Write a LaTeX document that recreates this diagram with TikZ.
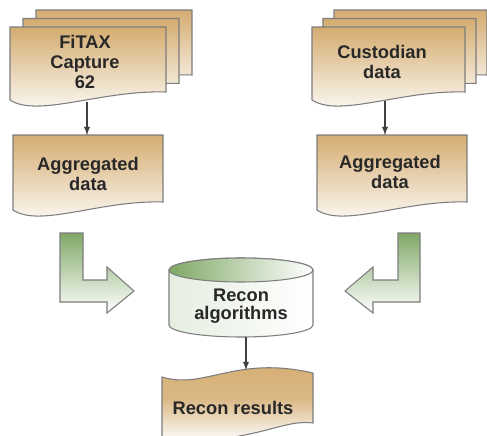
\documentclass[tikz,border=0pt]{standalone}
\usepackage{fontspec}
\setmainfont{Liberation Sans}

\definecolor{docTan}{RGB}{212,172,112}
\definecolor{arrGreen}{RGB}{128,168,102}
\definecolor{edgeGray}{RGB}{125,125,125}
\definecolor{txtGray}{RGB}{40,40,40}

%% document sheet: [style] x, y (top left), width, height
\newcommand{\docsheet}[5][]{%
	\draw [sheet,#1] (#2,#3) -- (#2+#4,#3) -- (#2+#4,#3+#5)
		.. controls (#2+0.58*#4,#3+#5-2) and (#2+0.18*#4,#3+#5+26) .. (#2,#3+#5+8) -- cycle;}

\begin{document}
\begin{tikzpicture}[>=latex, x=0.02cm, y=-0.02cm,
	sheet/.style={draw=edgeGray, line width=0.6pt, top color=docTan, bottom color=white},
	bentarrow/.style={draw=edgeGray, line width=0.6pt, top color=arrGreen, bottom color=white},
	lbl/.style={font=\fontsize{10.4}{11.4}\selectfont\bfseries, text=txtGray, align=center, inner sep=0pt},
	flow/.style={->, draw=black!75, line width=0.6pt}]
	\useasboundingbox (0,0) rectangle (487,436);
	\clip (0,0) rectangle (487,436);

	%% Input stacks
	\foreach \i in {2,1,0} {
		\docsheet{10+13*\i}{27-8.5*\i}{156}{65}
		\docsheet{312+11*\i}{27-8.5*\i}{153}{65}
	}
	\node [lbl] (fitax) at (85,62) {FiTAX\\Capture\\62};
	\node [lbl] (custodian) at (382,62) {Custodian\\data};
	\coordinate (fitax-out) at (87,102);
	\coordinate (custodian-out) at (385,101);

	%% Aggregated data
	\docsheet{13}{135}{150}{67}
	\docsheet{317}{135}{150}{67}
	\node [lbl] (aggL) at (88,174) {Aggregated\\data};
	\node [lbl] (aggR) at (390,172) {Aggregated\\data};
	\coordinate (aggL-in) at (87,135);
	\coordinate (aggR-in) at (385,135);

	\draw [flow] (fitax-out) -- (aggL-in);
	\draw [flow] (custodian-out) -- (aggR-in);

	%% Bent arrows
	\draw [bentarrow] (60,233) -- (83,233) -- (83,280) -- (107,280) -- (107,267)
		-- (134,291) -- (107,313) -- (107,302) -- (60,302) -- cycle;
	\draw [bentarrow] (420,233) -- (398,233) -- (398,280) -- (373,280) -- (373,267)
		-- (345,291) -- (373,313) -- (373,302) -- (420,302) -- cycle;

	%% Recon cylinder
	\draw [draw=edgeGray, line width=0.6pt, left color=arrGreen!20, right color=white]
		(169,270) -- (169,325) arc [start angle=180, end angle=360, x radius=1.44cm, y radius=0.24cm]
		-- (313,270) arc [start angle=0, end angle=180, x radius=1.44cm, y radius=0.24cm] -- cycle;
	\draw [draw=edgeGray, line width=0.6pt, left color=arrGreen, right color=white]
		(241,270) ellipse [x radius=1.44cm, y radius=0.24cm];
	\node [lbl] (recon) at (241,306) {Recon\\[-1pt]algorithms};
	\coordinate (recon-out) at (246,337);

	%% Recon results
	\draw [sheet, middle color=docTan!85]
		(162,377) .. controls (205,390) and (235,355) .. (313,373)
		-- (313,423) .. controls (280,419) and (262,442) .. (162,442) -- cycle;
	\node [lbl] (results) at (233,408) {Recon results};
	\coordinate (results-in) at (246,370);

	\draw [flow] (recon-out) -- (results-in);
\end{tikzpicture}
\end{document}
